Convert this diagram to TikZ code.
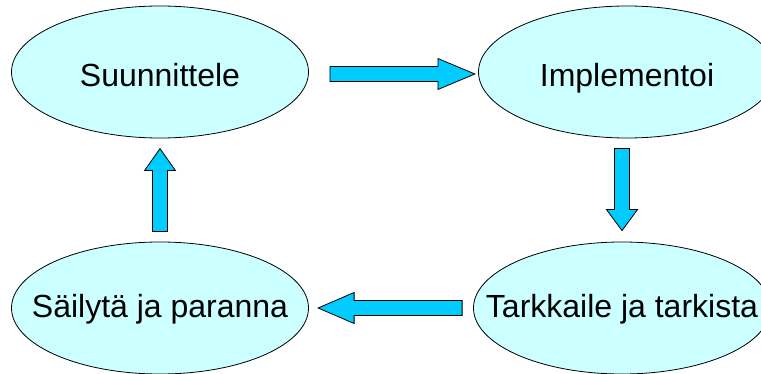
\documentclass[tikz,border=0pt]{standalone}
\usepackage{fontspec}
\setmainfont{Liberation Sans}
\usetikzlibrary{shapes.geometric,calc}
\definecolor{bubble}{HTML}{CCFFFF}
\definecolor{arrowblue}{HTML}{00CCFF}

\newcommand{\blockarrow}[4]{%
  \draw[bigarrow, shift={#1}, rotate=#2]
    (0,-7.5) -- ({#3-#4},-7.5) -- ({#3-#4},-15.5) -- (#3,0) --
    ({#3-#4},15.5) -- ({#3-#4},7.5) -- (0,7.5) -- cycle;}

\begin{document}
\begin{tikzpicture}[
    x=1pt, y=-1pt,
    phase/.style={ellipse, draw, fill=bubble, line width=0.8pt,
                  minimum width=297pt, minimum height=132pt, inner sep=0pt},
    phasetext/.style={anchor=base, inner sep=0pt, font=\fontsize{32}{38}\selectfont},
    bigarrow/.style={draw, fill=arrowblue, line width=0.8pt, line join=miter}
]
\useasboundingbox (0,0) rectangle (761,374);
\clip (0,0) rectangle (761,374);

\node[phase] (plan) at (160,72) {};
\node[phase] (impl) at (627,72) {};
\node[phase] (check) at (622,308) {};
\node[phase] (save) at (160,308) {};

\node[phasetext] (plan-t) at ($(plan)+(0,15)$) {Suunnittele};
\node[phasetext] (impl-t) at ($(impl)+(0,14.5)$) {Implementoi};
\node[phasetext] (check-t) at ($(check)+(0,9)$) {Tarkkaile ja tarkista};
\node[phasetext] (save-t) at ($(save)+(0,9)$) {Säilytä ja paranna};

\blockarrow{($(plan.east)+(21,2)$)}{0}{145}{37}
\blockarrow{($(check.north)+(0,-93)$)}{-90}{82}{21}
\blockarrow{($(check.west)+(-11,0)$)}{180}{144}{36}
\blockarrow{($(save.north)+(0,-10)$)}{90}{83}{22}

\end{tikzpicture}
\end{document}
